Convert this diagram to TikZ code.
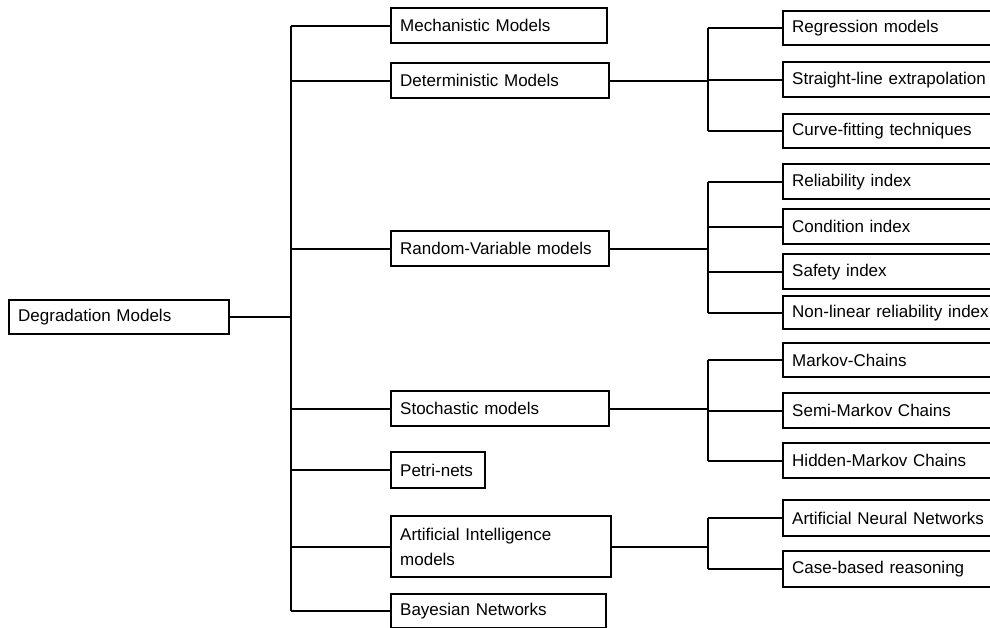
\documentclass[tikz,border=0pt]{standalone}
\usepackage{fontspec}
\setmainfont{Liberation Sans}
\begin{document}
\begin{tikzpicture}[x=1pt,y=-1pt,
  box/.style={draw, line width=2.4pt, anchor=north west, inner xsep=9pt, inner ysep=0pt,
    align=left, font=\fontsize{17}{25}\selectfont},
  conn/.style={line width=2.1pt}]
\useasboundingbox (0,0) rectangle (990,628);
\clip (0,0) rectangle (990,628);
% root
\node[box, text width=202pt, minimum height=34pt] (deg) at (8,299) {Degradation Models};
% middle column
\node[box, text width=198pt, minimum height=35pt] (mech) at (390,7) {Mechanistic Models};
\node[box, text width=200pt, minimum height=35pt] (det) at (390,62) {Deterministic Models};
\node[box, text width=200pt, minimum height=35pt] (rv) at (390,230) {Random-Variable models};
\node[box, text width=200pt, minimum height=35pt] (sto) at (390,390) {Stochastic models};
\node[box, text width=76pt, minimum height=36pt] (pn) at (390,451) {Petri-nets};
\node[box, text width=202pt, minimum height=61pt] (ai) at (390,515) {Artificial Intelligence\\models};
\node[box, text width=197pt, minimum height=34pt] (bay) at (390,593) {Bayesian Networks};
% right column
\node[box, text width=212pt, minimum height=34pt] (reg) at (782,10) {Regression models};
\node[box, text width=212pt, minimum height=35pt] (sle) at (782,61) {Straight-line extrapolation};
\node[box, text width=212pt, minimum height=34pt] (cft) at (782,113) {Curve-fitting techniques};
\node[box, text width=212pt, minimum height=35pt] (rel) at (782,163) {Reliability index};
\node[box, text width=212pt, minimum height=35pt] (con) at (782,208) {Condition index};
\node[box, text width=212pt, minimum height=35pt] (saf) at (782,253) {Safety index};
\node[box, text width=212pt, minimum height=33pt] (nlr) at (782,295) {Non-linear reliability index};
\node[box, text width=212pt, minimum height=34pt] (mc) at (782,342) {Markov-Chains};
\node[box, text width=212pt, minimum height=35pt] (smc) at (782,392) {Semi-Markov Chains};
\node[box, text width=212pt, minimum height=35pt] (hmc) at (782,442) {Hidden-Markov Chains};
\node[box, text width=212pt, minimum height=36pt] (ann) at (782,499) {Artificial Neural Networks};
\node[box, text width=212pt, minimum height=36pt] (cbr) at (782,550) {Case-based reasoning};
% main trunk
\draw[conn] (deg.east) -- (291,0 |- deg.east) coordinate (t);
\draw[conn] (t |- mech.west) -- (t |- bay.west);
\foreach \n in {mech,det,rv,sto,pn,ai,bay} \draw[conn] (t |- \n.west) -- (\n.west);
% deterministic
\draw[conn] (det.east) -- (708,0 |- det.east) coordinate (s1);
\draw[conn] (s1 |- reg.west) -- (s1 |- cft.west);
\foreach \n in {reg,sle,cft} \draw[conn] (s1 |- \n.west) -- (\n.west);
% random variable
\draw[conn] (rv.east) -- (708,0 |- rv.east) coordinate (s2);
\draw[conn] (s2 |- rel.west) -- (s2 |- nlr.west);
\foreach \n in {rel,con,saf,nlr} \draw[conn] (s2 |- \n.west) -- (\n.west);
% stochastic
\draw[conn] (sto.east) -- (708,0 |- sto.east) coordinate (s3);
\draw[conn] (s3 |- mc.west) -- (s3 |- hmc.west);
\foreach \n in {mc,smc,hmc} \draw[conn] (s3 |- \n.west) -- (\n.west);
% AI
\draw[conn] (ai.east) -- (708,0 |- ai.east) coordinate (s4);
\draw[conn] (s4 |- ann.west) -- (s4 |- cbr.west);
\foreach \n in {ann,cbr} \draw[conn] (s4 |- \n.west) -- (\n.west);
\end{tikzpicture}
\end{document}
